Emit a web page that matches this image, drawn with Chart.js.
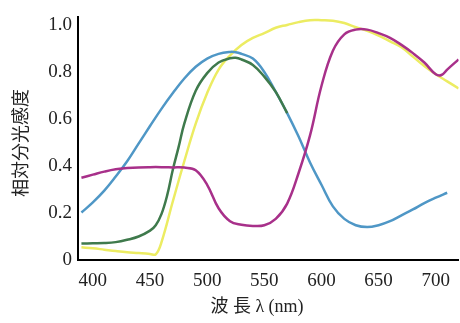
<!DOCTYPE html>
<html>
<head>
<meta charset="utf-8">
<script src="https://cdn.jsdelivr.net/npm/chart.js@4/dist/chart.umd.min.js"></script>
<style>
  html, body { margin: 0; padding: 0; background: #fff; }
  #wrap { width: 460px; height: 323px; position: relative; }
</style>
</head>
<body>
<div id="wrap"><canvas id="chart"></canvas></div>
<script>
// wavelengths (nm) and relative sensitivity
const yellowX = [390, 400, 410, 420, 430, 440, 450, 455, 460, 470, 480, 490, 500, 510, 520, 530, 540, 550, 560, 570, 580, 590, 600, 610, 620, 630, 640, 650, 660, 670, 680, 690, 700, 710, 720];
const yellowY = [0.054, 0.05, 0.044, 0.038, 0.033, 0.03, 0.026, 0.024, 0.075, 0.25, 0.42, 0.58, 0.71, 0.81, 0.87, 0.915, 0.945, 0.965, 0.988, 1.0, 1.012, 1.02, 1.02, 1.018, 1.008, 0.99, 0.975, 0.955, 0.93, 0.905, 0.865, 0.825, 0.79, 0.76, 0.73];

const magentaX = [390, 400, 410, 420, 430, 440, 450, 460, 470, 480, 490, 500, 510, 520, 530, 540, 550, 560, 570, 580, 590, 600, 610, 620, 630, 640, 650, 660, 670, 680, 690, 700, 705, 710, 720];
const magentaY = [0.35, 0.363, 0.376, 0.386, 0.391, 0.394, 0.395, 0.395, 0.394, 0.393, 0.382, 0.32, 0.22, 0.165, 0.15, 0.145, 0.148, 0.175, 0.24, 0.37, 0.53, 0.74, 0.89, 0.96, 0.98, 0.98, 0.965, 0.945, 0.915, 0.88, 0.84, 0.79, 0.787, 0.81, 0.853];

const greenX = [390, 400, 410, 420, 430, 440, 450, 455, 460, 465, 470, 475, 480, 490, 500, 510, 520, 525, 530, 540, 550, 560, 570];
const greenY = [0.07, 0.071, 0.072, 0.076, 0.086, 0.1, 0.125, 0.148, 0.195, 0.275, 0.385, 0.48, 0.58, 0.72, 0.795, 0.84, 0.858, 0.86, 0.853, 0.83, 0.78, 0.715, 0.625];

const blueX = [390, 400, 410, 420, 430, 440, 450, 460, 470, 480, 490, 500, 510, 520, 525, 530, 540, 550, 560, 570, 580, 590, 600, 610, 620, 630, 640, 650, 660, 670, 680, 690, 700, 710];
const blueY = [0.202, 0.245, 0.295, 0.355, 0.42, 0.495, 0.57, 0.643, 0.71, 0.772, 0.822, 0.857, 0.877, 0.885, 0.884, 0.877, 0.857, 0.8, 0.715, 0.625, 0.525, 0.415, 0.32, 0.228, 0.175, 0.148, 0.14, 0.148, 0.165, 0.19, 0.215, 0.242, 0.265, 0.286];

const xTicks = [400, 450, 500, 550, 600, 650, 700];
const yTicks = [0, 0.2, 0.4, 0.6, 0.8, 1.0];
const xTitle = '波 長 λ (nm)';
const yTitle = '相対分光感度';

function pts(xs, ys) {
  return xs.map((x, i) => ({ x: x, y: ys[i] }));
}

function line(data, color) {
  return {
    data: data,
    borderColor: color,
    borderWidth: 2.5,
    pointRadius: 0,
    fill: false,
    tension: 0.4
  };
}

// axis titles drawn by hand so they sit where the original has them
const axisTitles = {
  id: 'axisTitles',
  afterDraw(chart) {
    const ctx = chart.ctx;
    ctx.save();
    ctx.fillStyle = '#222';
    ctx.textAlign = 'center';
    ctx.textBaseline = 'middle';
    ctx.font = '18px "Liberation Serif", "Noto Sans CJK JP"';
    ctx.fillText(xTitle, 257, 307);
    ctx.translate(20, 143);
    ctx.rotate(-Math.PI / 2);
    ctx.font = '18px "Noto Sans CJK JP"';
    ctx.fillText(yTitle, 0, 0);
    ctx.restore();
  }
};

new Chart(document.getElementById('chart'), {
  type: 'line',
  data: {
    datasets: [
      line(pts(magentaX, magentaY), '#a8308a'),
      line(pts(greenX, greenY), '#3f7a4c'),
      line(pts(blueX, blueY), '#4f97c6'),
      line(pts(yellowX, yellowY), '#ecec62')
    ]
  },
  options: {
    responsive: true,
    maintainAspectRatio: false,
    animation: false,
    layout: { padding: { top: 5, right: 0, left: 0, bottom: 0 } },
    plugins: { legend: { display: false }, tooltip: { enabled: false } },
    scales: {
      x: {
        type: 'linear',
        min: 387,
        max: 720,
        afterBuildTicks: (s) => { s.ticks = xTicks.map(v => ({ value: v })); },
        afterFit: (s) => { s.height = 63; },
        grid: { display: false, drawTicks: false },
        border: { display: true, color: '#000', width: 2 },
        ticks: {
          color: '#222',
          padding: 10,
          maxRotation: 0,
          font: { family: 'Liberation Serif', size: 19 }
        }
      },
      y: {
        type: 'linear',
        min: 0,
        max: 1.032,
        afterBuildTicks: (s) => { s.ticks = yTicks.map(v => ({ value: v })); },
        afterFit: (s) => { s.width = 78; },
        grid: { display: false, drawTicks: false },
        border: { display: true, color: '#000', width: 2 },
        ticks: {
          color: '#222',
          padding: 6,
          font: { family: 'Liberation Serif', size: 19 },
          callback: (v) => v === 0 ? '0' : v.toFixed(1)
        }
      }
    }
  },
  plugins: [axisTitles]
});
</script>
</body>
</html>
